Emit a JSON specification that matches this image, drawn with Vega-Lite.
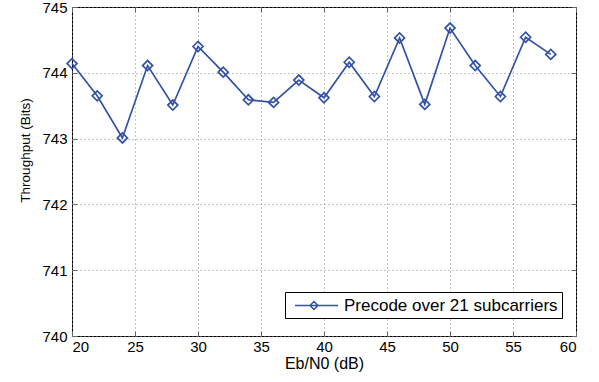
{
  "$schema": "https://vega.github.io/schema/vega-lite/v6.json",
  "width": 504,
  "height": 329,
  "autosize": {"type": "none"},
  "padding": {"left": 72, "top": 7, "right": 23, "bottom": 46},
  "background": "white",
  "config": {
    "font": "Liberation Sans",
    "view": {"stroke": "black", "strokeWidth": 1},
    "axis": {
      "domain": false,
      "grid": true,
      "gridDash": [1, 3],
      "gridColor": "#888888",
      "gridWidth": 1,
      "ticks": true,
      "tickSize": -5,
      "tickColor": "#666666",
      "labelFont": "Liberation Sans",
      "labelFontSize": 15,
      "labelColor": "black",
      "titleFont": "Liberation Sans",
      "titleFontWeight": "normal",
      "titleColor": "black"
    }
  },
  "data": {
    "values": [
      {"ebn0": 20, "throughput": 744.14, "series": "Precode over 21 subcarriers"},
      {"ebn0": 22, "throughput": 743.65, "series": "Precode over 21 subcarriers"},
      {"ebn0": 24, "throughput": 743.01, "series": "Precode over 21 subcarriers"},
      {"ebn0": 26, "throughput": 744.11, "series": "Precode over 21 subcarriers"},
      {"ebn0": 28, "throughput": 743.51, "series": "Precode over 21 subcarriers"},
      {"ebn0": 30, "throughput": 744.40, "series": "Precode over 21 subcarriers"},
      {"ebn0": 32, "throughput": 744.01, "series": "Precode over 21 subcarriers"},
      {"ebn0": 34, "throughput": 743.59, "series": "Precode over 21 subcarriers"},
      {"ebn0": 36, "throughput": 743.55, "series": "Precode over 21 subcarriers"},
      {"ebn0": 38, "throughput": 743.89, "series": "Precode over 21 subcarriers"},
      {"ebn0": 40, "throughput": 743.62, "series": "Precode over 21 subcarriers"},
      {"ebn0": 42, "throughput": 744.16, "series": "Precode over 21 subcarriers"},
      {"ebn0": 44, "throughput": 743.64, "series": "Precode over 21 subcarriers"},
      {"ebn0": 46, "throughput": 744.53, "series": "Precode over 21 subcarriers"},
      {"ebn0": 48, "throughput": 743.52, "series": "Precode over 21 subcarriers"},
      {"ebn0": 50, "throughput": 744.68, "series": "Precode over 21 subcarriers"},
      {"ebn0": 52, "throughput": 744.11, "series": "Precode over 21 subcarriers"},
      {"ebn0": 54, "throughput": 743.64, "series": "Precode over 21 subcarriers"},
      {"ebn0": 56, "throughput": 744.54, "series": "Precode over 21 subcarriers"},
      {"ebn0": 58, "throughput": 744.28, "series": "Precode over 21 subcarriers"}
    ]
  },
  "resolve": {"axis": {"x": "independent", "y": "independent"}},
  "layer": [
    {
      "mark": {"type": "line", "strokeWidth": 1.7},
      "encoding": {
        "x": {
          "field": "ebn0",
          "type": "quantitative",
          "scale": {"domain": [20, 60], "nice": false, "zero": false},
          "axis": {
            "title": "Eb/N0 (dB)",
            "values": [20, 25, 30, 35, 40, 45, 50, 55, 60],
            "labelPadding": 8,
            "titleFontSize": 16,
            "titlePadding": 1
          }
        },
        "y": {
          "field": "throughput",
          "type": "quantitative",
          "scale": {"domain": [740, 745], "nice": false, "zero": false},
          "axis": {
            "title": "Throughput (Bits)",
            "values": [740, 741, 742, 743, 744, 745],
            "labelPadding": 10,
            "titleFontSize": 13.5,
            "titleY": 143,
            "titlePadding": 9
          }
        },
        "color": {
          "field": "series",
          "type": "nominal",
          "scale": {"range": ["#3352A6"]},
          "legend": {
            "title": null,
            "orient": "none",
            "legendX": 213,
            "legendY": 285,
            "padding": 4,
            "strokeColor": "black",
            "fillColor": "white",
            "labelFontSize": 17,
            "labelColor": "black",
            "labelLimit": 0,
            "labelOffset": 36,
            "symbolSize": 289,
            "symbolStrokeWidth": 1.5,
            "symbolType": "M-0.41,0L4.65,0M1.35,0L1.82,-0.47L2.29,0L1.82,0.47Z",
            "symbolFillColor": "transparent"
          }
        }
      }
    },
    {
      "mark": {"type": "point", "shape": "diamond", "filled": false, "size": 100, "strokeWidth": 1.7, "color": "#3352A6", "opacity": 1},
      "encoding": {
        "x": {
          "field": "ebn0",
          "type": "quantitative",
          "axis": {
            "orient": "top",
            "title": null,
            "labels": false,
            "grid": false,
            "values": [20, 25, 30, 35, 40, 45, 50, 55, 60]
          }
        },
        "y": {
          "field": "throughput",
          "type": "quantitative",
          "axis": {
            "orient": "right",
            "title": null,
            "labels": false,
            "grid": false,
            "values": [740, 741, 742, 743, 744, 745]
          }
        }
      }
    }
  ]
}
